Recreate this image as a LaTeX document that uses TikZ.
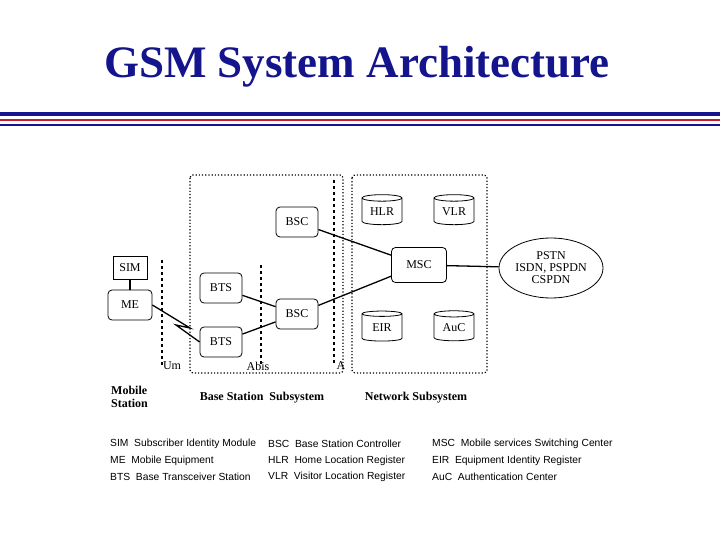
\documentclass[tikz,border=0pt]{standalone}
\usepackage{fontspec}
\setmainfont{Liberation Serif}
\newfontfamily\legfont{Liberation Sans}
\usetikzlibrary{shapes.geometric}
\definecolor{navy}{RGB}{20,20,140}
\definecolor{rred}{RGB}{190,30,40}
\begin{document}
\begin{tikzpicture}[x=1pt,y=-1pt,
  rbox/.style={draw,line width=0.8pt,rounded corners=4pt,minimum width=42pt,minimum height=30pt,font=\fontsize{12}{12}\selectfont,inner sep=1pt},
  db/.style={draw,line width=0.8pt,cylinder,shape border rotate=90,aspect=0.25,minimum width=40pt,minimum height=30pt,font=\fontsize{12}{12}\selectfont,inner sep=1pt},
  dotbox/.style={draw,dotted,line width=1.2pt,rounded corners=3pt},
  iface/.style={draw,dashed,line width=1.2pt},
  lab/.style={font=\fontsize{12}{12}\selectfont,inner sep=1pt},
  blab/.style={font=\bfseries\fontsize{12}{13}\selectfont,inner sep=1pt,align=left},
  leg/.style={font=\legfont\fontsize{10.3}{10.3}\selectfont,anchor=west,inner sep=0pt},
  link/.style={line width=1.3pt}]
\useasboundingbox (0,0) rectangle (720,540);
\node[font=\bfseries\fontsize{45}{45}\selectfont,text=navy] (title) at (357,67) {GSM System Architecture};
\draw[navy,line width=4.5pt] (0,114) -- (720,114);
\draw[rred,line width=2pt] (0,120) -- (720,120);
\draw[navy,line width=2pt] (0,125) -- (720,125);
% boxes
\draw[dotbox] (190,175) rectangle (343,373);
\draw[dotbox] (352,175) rectangle (487,373);
\coordinate (um1) at (162,260); \coordinate (um2) at (162,367);
\coordinate (ab1) at (261,265); \coordinate (ab2) at (261,367);
\coordinate (a1) at (334,180); \coordinate (a2) at (334,365);
\draw[iface] (um1) -- (um2);
\draw[iface] (ab1) -- (ab2);
\draw[iface] (a1) -- (a2);
% nodes
\node[draw,line width=0.8pt,minimum width=34pt,minimum height=23pt,inner sep=1pt,font=\fontsize{12}{12}\selectfont] (sim) at (130,268) {SIM};
\node[rbox,minimum width=44pt] (me) at (130,305) {ME};
\node[rbox] (bts1) at (221,288) {BTS};
\node[rbox] (bts2) at (221,342) {BTS};
\node[rbox] (bsc1) at (297,222) {BSC};
\node[rbox] (bsc2) at (297,314) {BSC};
\node[rbox,minimum width=55pt,minimum height=35pt] (msc) at (419,265) {MSC};
\node[db] (hlr) at (382,212) {HLR};
\node[db] (vlr) at (454,212) {VLR};
\node[db] (eir) at (382,328) {EIR};
\node[db] (auc) at (454,328) {AuC};
\node[draw,line width=0.8pt,ellipse,minimum width=104pt,minimum height=60pt,align=center,inner sep=0pt,font=\fontsize{12}{12}\selectfont] (pstn) at (551,268) {PSTN\\ISDN, PSPDN\\CSPDN};
% links
\draw[link] (sim) -- (me);
\draw[link] (me.east) -- (190,328) -- (176,325) -- (bts2.west);
\draw[link] (bts1) -- (bsc2);
\draw[link] (bts2) -- (bsc2);
\draw[link] (bsc1) -- (msc);
\draw[link] (bsc2) -- (msc);
\draw[link] (msc) -- (pstn);
% labels
\node[lab] (lum) at (172,366) {Um};
\node[lab] (lab) at (258,366) {Abis};
\node[lab] (la) at (341,366) {A};
\node[blab,anchor=west] (ms) at (110,397) {Mobile\\Station};
\node[blab] (bss) at (262,398) {Base Station\ \ Subsystem};
\node[blab] (nss) at (416,398) {Network Subsystem};
% legend
\node[leg] (l1) at (110,444) {SIM\ \ Subscriber Identity Module};
\node[leg] (l2) at (110,461) {ME\ \ Mobile Equipment};
\node[leg] (l3) at (110,477) {BTS\ \ Base Transceiver Station};
\node[leg] (l4) at (268,444) {BSC\ \ Base Station Controller};
\node[leg] (l5) at (268,461) {HLR\ \ Home Location Register};
\node[leg] (l6) at (268,477) {VLR\ \ Visitor Location Register};
\node[leg] (l7) at (432,444) {MSC\ \ Mobile services Switching Center};
\node[leg] (l8) at (432,461) {EIR\ \ Equipment Identity Register};
\node[leg] (l9) at (432,477) {AuC\ \ Authentication Center};
\end{tikzpicture}
\end{document}
